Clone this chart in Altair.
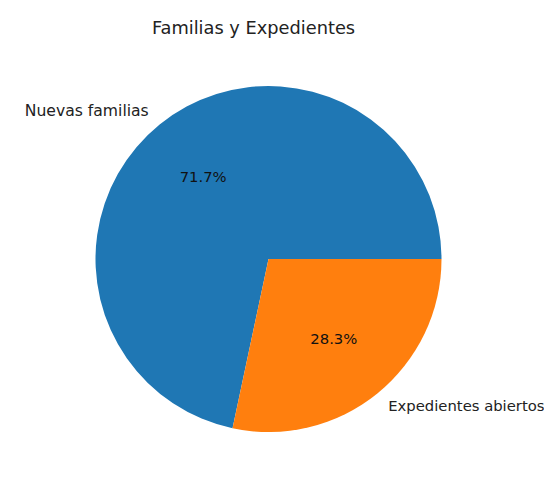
import altair as alt
import pandas as pd

categories = ["Nuevas familias", "Expedientes abiertos"]
values = [43, 17]
stack_order = [1, 0]
colors = ["#1f77b4", "#ff7f0e"]

df = pd.DataFrame({"category": categories, "value": values, "ord": stack_order})

R = 173
CX, CY = 260.5, 211

base = alt.Chart(df).transform_joinaggregate(
    total="sum(value)"
).transform_calculate(
    pct="datum.value / datum.total"
).encode(
    theta=alt.Theta("value:Q", stack=True,
                    scale=alt.Scale(range=[1.5707963, 7.8539816])),
    order=alt.Order("ord:Q"),
    x=alt.value(CX),
    y=alt.value(CY),
)

pie = base.mark_arc(outerRadius=R).encode(
    color=alt.Color("category:N",
                    scale=alt.Scale(domain=categories, range=colors),
                    legend=None)
)

pct = base.mark_text(radius=0.6 * R, font="DejaVu Sans", fontSize=14.8,
                     color="#111", align="center", baseline="middle").encode(
    text=alt.Text("pct:Q", format=".1%")
)

lab_left = base.mark_text(radius=1.1 * R, font="DejaVu Sans", fontSize=15.6,
                          color="#222", align="right", baseline="middle").encode(
    text=alt.condition(alt.datum.category == categories[0],
                       alt.Text("category:N"), alt.value(""))
)

lab_right = base.mark_text(radius=1.1 * R, font="DejaVu Sans", fontSize=14.8,
                           color="#222", align="left", baseline="middle").encode(
    text=alt.condition(alt.datum.category == categories[1],
                       alt.Text("category:N"), alt.value(""))
)

chart = alt.layer(pie, pct, lab_left, lab_right).properties(
    width=536,
    height=426,
    background="white",
    padding={"left": 0, "top": 40, "right": 0, "bottom": 0},
    autosize=alt.AutoSizeParams(type="none"),
    title=alt.TitleParams("Familias y Expedientes", font="DejaVu Sans",
                          fontSize=17.8, fontWeight="normal", color="#222",
                          anchor="middle", dx=-22.5, baseline="alphabetic",
                          offset=-4),
).configure_view(strokeWidth=0, stroke="transparent")

chart.save("out.html", embed_options={"renderer": "svg", "actions": False})
